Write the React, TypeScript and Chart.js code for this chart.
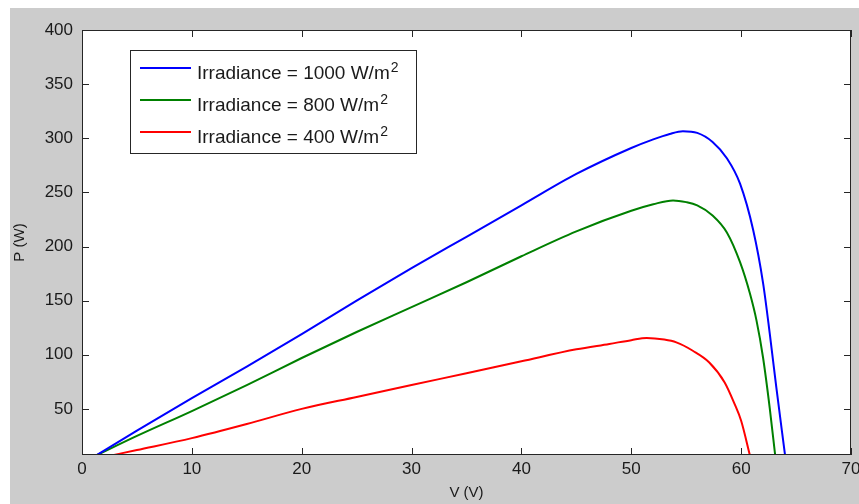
import React, { useEffect, useRef } from 'react';
import { Chart, registerables } from 'chart.js';

Chart.register(...registerables);

// ---- data ----
const xTicks = [0, 10, 20, 30, 40, 50, 60, 70];
const yTicks = [50, 100, 150, 200, 250, 300, 350, 400];

const seriesLabels = ['Irradiance = 1000 W/m²', 'Irradiance = 800 W/m²', 'Irradiance = 400 W/m²'];
const seriesColors = ['#0000ff', '#008000', '#ff0000'];

const blueV = [1.3, 5, 10, 15, 20, 25, 30, 35, 40, 45, 50, 52, 53.5, 54.7, 56, 57.4, 58.7, 59.9, 61.1, 62, 62.6, 63.2, 64];
const blueP = [7, 30, 60, 89, 119, 150, 180, 209, 238, 267, 291, 299, 304, 306.5, 305, 296.6, 281.5, 258, 215, 166, 120, 70, 7];

const greenV = [1.3, 5, 10, 15, 20, 25, 30, 35, 40, 45, 50, 52, 53.8, 55, 56, 57.4, 58.7, 59.9, 60.8, 61.4, 62, 62.6, 63.1];
const greenP = [7, 25, 48, 72, 97, 121, 144, 167, 191, 214, 233, 239, 242.6, 241, 238, 228.7, 213, 185.5, 156.5, 131.5, 97, 51, 7];

const redV = [2.7, 5, 10, 15, 20, 25, 30, 35, 40, 45, 48, 50, 51.4, 53, 54.1, 55.6, 57.1, 58.5, 59.4, 60, 60.8];
const redP = [7, 12, 23, 36, 50, 61, 72, 83, 94, 105, 110, 113.5, 115.5, 114, 111.4, 103.7, 92.9, 74.4, 54.6, 39, 7];

const seriesV = [blueV, greenV, redV];
const seriesP = [blueP, greenP, redP];

const FONT = 'Liberation Sans, Arial, Helvetica, sans-serif';
const INK = '#1a1a1a';

const matlabPlugin = {
  id: 'matlabFrame',
  beforeDraw(chart: any) {
    const { ctx, chartArea: a } = chart;
    ctx.save();
    ctx.fillStyle = '#ffffff';
    ctx.fillRect(a.left, a.top, a.right - a.left, a.bottom - a.top);
    ctx.restore();
  },
  afterDraw(chart: any) {
    const { ctx, chartArea: a, scales } = chart;
    const tl = 7;
    ctx.save();
    ctx.strokeStyle = '#262626';
    ctx.lineWidth = 1;
    ctx.strokeRect(a.left + 0.5, a.top + 0.5, a.right - a.left - 1, a.bottom - a.top - 1);
    ctx.beginPath();
    for (const v of yTicks) {
      const y = Math.round(scales.y.getPixelForValue(v)) + 0.5;
      ctx.moveTo(a.left, y);
      ctx.lineTo(a.left + tl, y);
      ctx.moveTo(a.right, y);
      ctx.lineTo(a.right - tl, y);
    }
    for (const v of xTicks) {
      const x = Math.round(scales.x.getPixelForValue(v)) + 0.5;
      ctx.moveTo(x, a.bottom);
      ctx.lineTo(x, a.bottom - tl);
      ctx.moveTo(x, a.top);
      ctx.lineTo(x, a.top + tl);
    }
    ctx.stroke();

    // legend
    const lx = a.left + 48;
    const ly = a.top + 20;
    const lw = 287;
    const lh = 104;
    ctx.fillStyle = '#ffffff';
    ctx.fillRect(lx, ly, lw, lh);
    ctx.strokeStyle = '#262626';
    ctx.strokeRect(lx + 0.5, ly + 0.5, lw - 1, lh - 1);
    seriesLabels.forEach((label, i) => {
      const rowY = ly + 18 + i * 32;
      ctx.strokeStyle = seriesColors[i];
      ctx.lineWidth = 2;
      ctx.beginPath();
      ctx.moveTo(lx + 10, rowY);
      ctx.lineTo(lx + 61, rowY);
      ctx.stroke();
      const sup = label.endsWith('²');
      const base = sup ? label.slice(0, -1) : label;
      ctx.fillStyle = INK;
      ctx.textAlign = 'left';
      ctx.textBaseline = 'alphabetic';
      ctx.font = `19px ${FONT}`;
      const tx = lx + 67;
      const by = rowY + 11;
      ctx.fillText(base, tx, by);
      if (sup) {
        const w = ctx.measureText(base).width;
        ctx.font = `14px ${FONT}`;
        ctx.fillText('2', tx + w + 1, by - 7);
      }
    });
    ctx.restore();
  },
};

export default function App() {
  const ref = useRef<HTMLCanvasElement | null>(null);

  useEffect(() => {
    if (!ref.current) return;
    const datasets = seriesLabels.map((label, i) => ({
      label,
      data: seriesV[i].map((v, j) => ({ x: v, y: seriesP[i][j] })),
      borderColor: seriesColors[i],
      backgroundColor: seriesColors[i],
      borderWidth: 2,
      pointRadius: 0,
      fill: false,
      cubicInterpolationMode: 'monotone' as const,
    }));
    const chart = new Chart(ref.current, {
      type: 'line',
      data: { datasets },
      plugins: [matlabPlugin],
      options: {
        animation: false,
        responsive: false,
        devicePixelRatio: 1,
        layout: { padding: { left: 0, top: 22, right: 8, bottom: 0 } },
        plugins: { legend: { display: false }, tooltip: { enabled: false } },
        scales: {
          x: {
            type: 'linear',
            min: 0,
            max: 70,
            afterBuildTicks: (s: any) => {
              s.ticks = xTicks.map((v) => ({ value: v }));
            },
            afterFit: (s: any) => {
              s.height = 49;
              s.paddingLeft = 0;
              s.paddingRight = 0;
            },
            grid: { display: false, drawTicks: false },
            border: { display: false },
            ticks: { color: INK, font: { family: FONT, size: 17 }, padding: 4, maxRotation: 0, autoSkip: false },
            title: { display: true, text: 'V (V)', color: INK, font: { family: FONT, size: 15 }, padding: { top: 0, bottom: 2 } },
          },
          y: {
            type: 'linear',
            min: 7.4,
            max: 400,
            afterBuildTicks: (s: any) => {
              s.ticks = yTicks.map((v) => ({ value: v }));
            },
            afterFit: (s: any) => {
              s.width = 72;
              s.paddingTop = 0;
              s.paddingBottom = 0;
            },
            grid: { display: false, drawTicks: false },
            border: { display: false },
            ticks: { color: INK, font: { family: FONT, size: 17 }, padding: 9, autoSkip: false },
            title: { display: true, text: 'P (W)', color: INK, font: { family: FONT, size: 15 }, padding: { top: 1, bottom: 0 } },
          },
        },
      },
    });
    return () => chart.destroy();
  }, []);

  return (
    <div
      style={{
        position: 'absolute',
        left: 10,
        top: 8,
        width: 849,
        height: 496,
        background: '#cccccc',
      }}
    >
      <canvas ref={ref} width={849} height={496} style={{ display: 'block', width: 849, height: 496 }} />
    </div>
  );
}
